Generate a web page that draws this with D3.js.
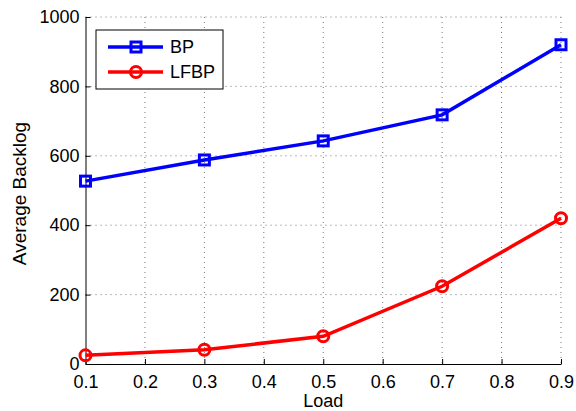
<!DOCTYPE html>
<html>
<head>
<meta charset="utf-8">
<script src="https://cdn.jsdelivr.net/npm/d3@7"></script>
<style>
body { margin: 0; background: #fff; }
text { font-family: "Liberation Sans", Arial, sans-serif; }
</style>
</head>
<body>
<div id="chart-area"></div>
<script>
const loads = [0.1, 0.3, 0.5, 0.7, 0.9];
const bpBacklog = [527, 588, 643, 718, 920];
const lfbpBacklog = [25, 41, 80, 224, 420];
const xTicks = [0.1, 0.2, 0.3, 0.4, 0.5, 0.6, 0.7, 0.8, 0.9];
const yTicks = [0, 200, 400, 600, 800, 1000];

const margin = {top: 17, right: 15, bottom: 47, left: 85.5};
const width = 576 - margin.left - margin.right;
const height = 411 - margin.top - margin.bottom;

var svg = d3.select("#chart-area").append("svg")
    .attr("width", 576)
    .attr("height", 411);

var g = svg.append("g")
    .attr("transform", "translate(" + margin.left + "," + margin.top + ")");

const x = d3.scaleLinear().domain([0.1, 0.9]).range([0, width]);
const y = d3.scaleLinear().domain([0, 1000]).range([height, 0]);

// dotted grid
g.append("g").selectAll("line")
    .data(xTicks.slice(1))
    .enter().append("line")
    .attr("x1", d => x(d)).attr("x2", d => x(d))
    .attr("y1", 0).attr("y2", height)
    .attr("stroke", "#777").attr("stroke-width", 1)
    .attr("stroke-dasharray", "1,4");

g.append("g").selectAll("line")
    .data(yTicks.slice(1))
    .enter().append("line")
    .attr("x1", 0).attr("x2", width)
    .attr("y1", d => y(d)).attr("y2", d => y(d))
    .attr("stroke", "#777").attr("stroke-width", 1)
    .attr("stroke-dasharray", "1,4");

// axes, ticks pointing inward
var xAxis = g.append("g")
    .attr("transform", "translate(0," + height + ")")
    .call(d3.axisBottom(x).tickValues(xTicks).tickSizeInner(-5).tickSizeOuter(0).tickPadding(11).tickFormat(d3.format(".1f")));

var yAxis = g.append("g")
    .call(d3.axisLeft(y).tickValues(yTicks).tickSizeInner(-5).tickSizeOuter(0).tickPadding(6).tickFormat(d3.format("d")));

[xAxis, yAxis].forEach(a => {
  a.attr("font-size", 18).attr("font-family", "Liberation Sans, Arial, sans-serif");
  a.select(".domain").attr("stroke", "#000").attr("stroke-width", 1);
  a.selectAll(".tick line").attr("stroke", "#000");
  a.selectAll("text").attr("fill", "#000");
});

// axis labels
svg.append("text")
    .attr("x", margin.left + width / 2)
    .attr("y", 407)
    .attr("text-anchor", "middle")
    .attr("font-size", 18)
    .text("Load");

svg.append("text")
    .attr("transform", "translate(26,193.5) rotate(-90)")
    .attr("text-anchor", "middle")
    .attr("font-size", 19)
    .text("Average Backlog");

var line = d3.line()
    .x(d => x(d[0]))
    .y(d => y(d[1]));

var bpData = loads.map((d, i) => [d, bpBacklog[i]]);
var lfbpData = loads.map((d, i) => [d, lfbpBacklog[i]]);

g.append("path")
    .datum(bpData)
    .attr("fill", "none")
    .attr("stroke", "#0000ff")
    .attr("stroke-width", 3.5)
    .attr("d", line);

g.selectAll(".bp-marker")
    .data(bpData)
    .enter().append("rect")
    .attr("class", "bp-marker")
    .attr("x", d => x(d[0]) - 5)
    .attr("y", d => y(d[1]) - 5)
    .attr("width", 10).attr("height", 10)
    .attr("fill", "none")
    .attr("stroke", "#0000ff")
    .attr("stroke-width", 3);

g.append("path")
    .datum(lfbpData)
    .attr("fill", "none")
    .attr("stroke", "#ff0000")
    .attr("stroke-width", 3.5)
    .attr("d", line);

g.selectAll(".lfbp-marker")
    .data(lfbpData)
    .enter().append("circle")
    .attr("class", "lfbp-marker")
    .attr("cx", d => x(d[0]))
    .attr("cy", d => y(d[1]))
    .attr("r", 5.5)
    .attr("fill", "none")
    .attr("stroke", "#ff0000")
    .attr("stroke-width", 3);

// legend
var legend = svg.append("g").attr("transform", "translate(96,30)");
legend.append("rect")
    .attr("width", 127).attr("height", 59)
    .attr("fill", "#fff")
    .attr("stroke", "#000").attr("stroke-width", 1);

legend.append("line")
    .attr("x1", 12).attr("x2", 67).attr("y1", 17).attr("y2", 17)
    .attr("stroke", "#0000ff").attr("stroke-width", 3.5);
legend.append("rect")
    .attr("x", 35).attr("y", 12).attr("width", 10).attr("height", 10)
    .attr("fill", "none").attr("stroke", "#0000ff").attr("stroke-width", 3);
legend.append("text")
    .attr("x", 74).attr("y", 23)
    .attr("font-size", 18)
    .text("BP");

legend.append("line")
    .attr("x1", 12).attr("x2", 67).attr("y1", 42).attr("y2", 42)
    .attr("stroke", "#ff0000").attr("stroke-width", 3.5);
legend.append("circle")
    .attr("cx", 40).attr("cy", 42).attr("r", 5.5)
    .attr("fill", "none").attr("stroke", "#ff0000").attr("stroke-width", 3);
legend.append("text")
    .attr("x", 74).attr("y", 48)
    .attr("font-size", 18)
    .text("LFBP");
</script>
</body>
</html>
